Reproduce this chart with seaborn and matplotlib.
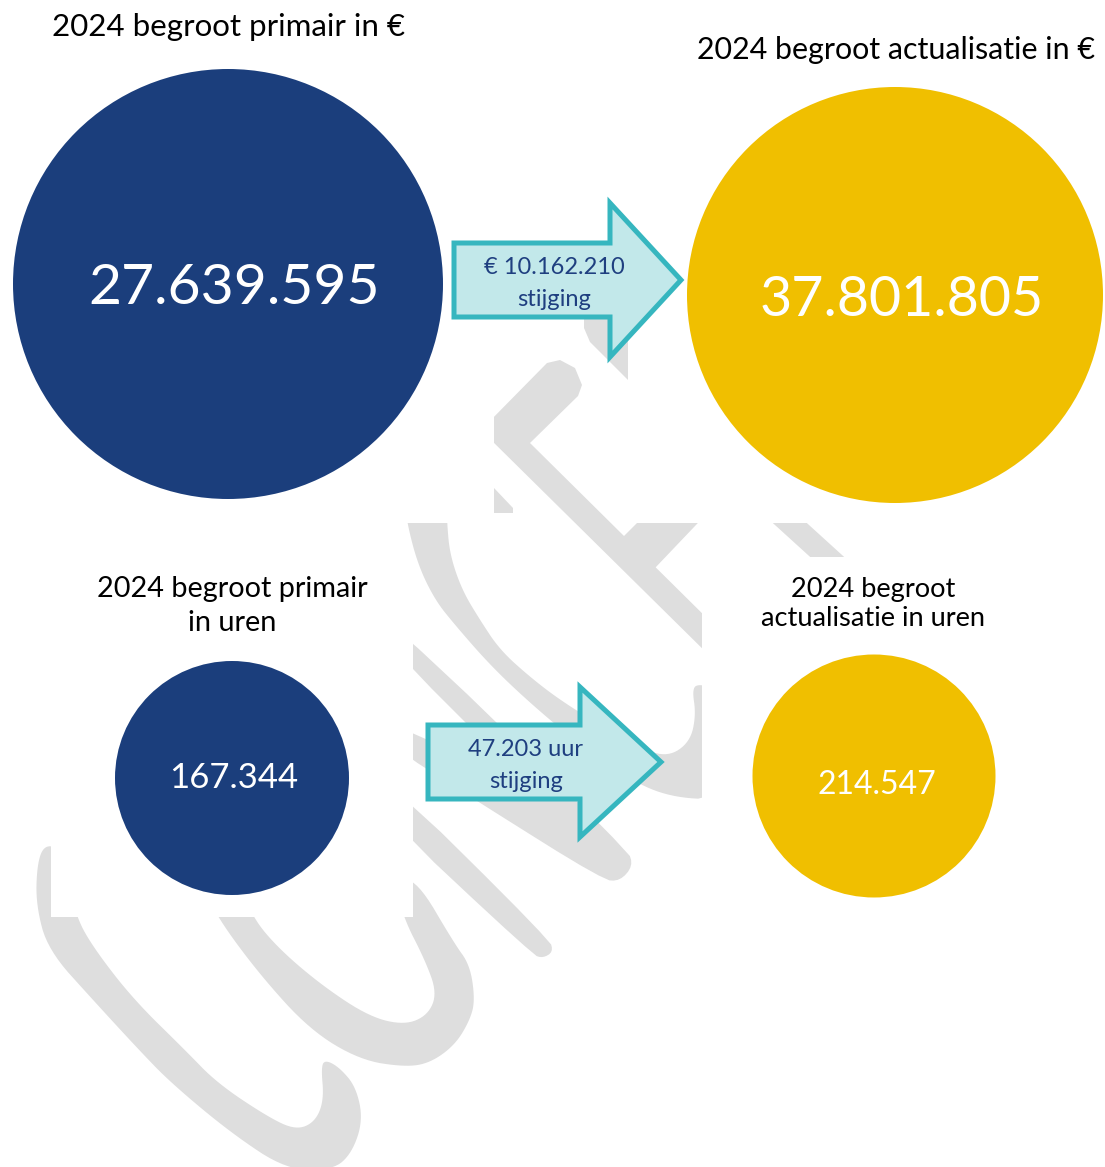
import numpy as np
import pandas as pd
import seaborn as sns
import matplotlib.pyplot as plt
import matplotlib.patches as patches

# data
labels_euro = ["2024 begroot primair in €", "2024 begroot actualisatie in €"]
values_euro = [27639595, 37801805]
labels_uren = [["2024 begroot primair", "in uren"], ["2024 begroot", "actualisatie in uren"]]
values_uren = [167344, 214547]
kinds = ["primair", "actualisatie"]

BLUE = "#1B3E7C"
YELLOW = "#F0BF00"
ARROW_FILL = "#C2E8EA"
ARROW_EDGE = "#36B6BF"
ARROW_TEXT = "#1F3F80"
WM_GRAY = "#DEDEDE"


def nl(v):
    # dutch thousands separator
    return f"{v:,}".replace(",", ".")


def chaikin(pts, n=3):
    p = np.asarray(pts, float)
    for _ in range(n):
        q = np.roll(p, -1, axis=0)
        p = np.column_stack([0.75 * p + 0.25 * q, 0.25 * p + 0.75 * q]).reshape(-1, 2)
    return p


def draw_arrow(ax, x0, x1, tip, yc, shaft_h, head_h, lines, fs):
    pts = [(x0, yc - shaft_h), (x1, yc - shaft_h), (x1, yc - head_h), (tip, yc),
           (x1, yc + head_h), (x1, yc + shaft_h), (x0, yc + shaft_h)]
    ax.add_patch(patches.Polygon(pts, closed=True, facecolor=ARROW_FILL,
                                 edgecolor=ARROW_EDGE, linewidth=3.6, joinstyle="miter", zorder=4))
    xm = (x0 + x1) / 2 + 22
    for i, t in enumerate(lines):
        ax.text(xm, yc - 13 + i * 33, t, ha="center", va="center", fontsize=fs,
                color=ARROW_TEXT, zorder=5)


def shape(ax, pts, z, smooth=0, clip=None):
    p = chaikin(pts, smooth) if smooth else pts
    patch = patches.Polygon(p, closed=True, facecolor=WM_GRAY, edgecolor="none", zorder=z)
    ax.add_patch(patch)
    if clip is not None:
        x, y, w, h = clip
        patch.set_clip_path(patches.Rectangle((x, y), w, h, transform=ax.transData))


def watermark(ax):
    # background logo, roughly traced; text boxes of the original hide parts of it
    shape(ax, [(44, 845), (37, 865), (36, 905), (48, 950), (93, 1000), (139, 1050), (171, 1083),
               (231, 1133), (287, 1170), (333, 1170), (352, 1153), (363, 1120), (356, 1087),
               (340, 1068), (326, 1060), (321, 1066), (324, 1100), (315, 1122), (296, 1130),
               (268, 1117), (217, 1083), (185, 1050), (134, 1000), (95, 950), (76, 917),
               (70, 880), (60, 848)], 0, smooth=3)
    shape(ax, [(200, 880), (217, 917), (260, 975), (310, 1030), (360, 1060), (405, 1067),
               (430, 1063), (455, 1045), (470, 1020), (475, 1000), (470, 965), (454, 943),
               (417, 880), (395, 880), (403, 917), (425, 960), (437, 993), (428, 1015),
               (405, 1025), (370, 1017), (324, 987), (280, 950), (252, 917), (240, 880)],
          0, smooth=3)
    shape(ax, [(370, 600), (628, 850), (633, 866), (620, 881), (603, 880), (480, 803),
               (380, 739), (380, 716), (535, 792), (370, 627)], 0, smooth=2)
    shape(ax, [(375, 767), (550, 940), (553, 952), (543, 958), (533, 955), (375, 807)], 0, smooth=2)
    ax.add_patch(patches.Rectangle((51, 523), 362, 394, facecolor="white", edgecolor="none", zorder=0.5))

    shape(ax, [(405, 500), (407, 523), (418, 565), (435, 600), (455, 625), (490, 665),
               (530, 703), (580, 745), (630, 780), (670, 797), (720, 800), (720, 690),
               (700, 684), (692, 688), (696, 715), (690, 742), (668, 757), (640, 748),
               (600, 725), (560, 700), (530, 677), (500, 650), (480, 620), (462, 590),
               (450, 555), (447, 523), (447, 500)],
          0.6, smooth=3, clip=(0, 523, 702, 700))
    shape(ax, [(485, 426), (547, 363), (560, 360), (575, 368), (582, 385), (578, 396),
               (530, 443), (720, 631), (720, 666), (485, 434)],
          0.6, clip=(494, 300, 208, 400))
    shape(ax, [(615, 545), (655, 505), (715, 505), (655, 568), (640, 568)],
          0.6, clip=(0, 523, 702, 100))
    shape(ax, [(494, 488), (513, 508), (513, 513), (494, 513)], 0.6)
    shape(ax, [(753, 505), (787, 505), (864, 575), (830, 575)], 0.6, clip=(700, 523, 200, 34))
    shape(ax, [(584, 300), (640, 300), (640, 392), (605, 357), (590, 342), (584, 328)],
          0.6, clip=(0, 290, 628, 120))


sns.set_theme(style="white")
plt.rcParams["font.family"] = ["Lato", "DejaVu Sans"]

fig = plt.figure(figsize=(11.05, 11.67), dpi=100)
ax = fig.add_axes([0, 0, 1, 1])
ax.set_xlim(0, 1105)
ax.set_ylim(1167, 0)
ax.axis("off")

watermark(ax)

# circles (layout in pixels)
circles = pd.DataFrame({
    "x": [228, 895, 232, 874],
    "y": [284, 295, 778, 776],
    "kind": kinds + kinds,
    "diam": [430, 416, 234, 243],
    "value": values_euro + values_uren,
})
sns.scatterplot(data=circles, x="x", y="y", hue="kind",
                palette={"primair": BLUE, "actualisatie": YELLOW},
                s=(circles["diam"] * 0.72) ** 2, linewidth=0, legend=False,
                ax=ax, zorder=3)

# values inside the circles
num_pos = [(234, 288, 41), (902, 300, 40), (234, 778, 25), (877, 785, 23)]
for (x, y, fs), v in zip(num_pos, circles["value"]):
    ax.text(x, y, nl(v), ha="center", va="center", fontsize=fs, color="white", zorder=5)

# titles
ax.text(228, 27, labels_euro[0], ha="center", va="center", fontsize=22.5, color="black")
ax.text(896, 50, labels_euro[1], ha="center", va="center", fontsize=21.9, color="black")
for i, t in enumerate(labels_uren[0]):
    ax.text(232, 589 + i * 34, t, ha="center", va="center", fontsize=20.8, color="black")
for i, t in enumerate(labels_uren[1]):
    ax.text(873, 589 + i * 30, t, ha="center", va="center", fontsize=19.6, color="black")

# increase arrows
draw_arrow(ax, 454, 610, 681, 280, 37, 77,
           [f"€ {nl(values_euro[1] - values_euro[0])}", "stijging"], 17)
draw_arrow(ax, 428, 580, 661, 762, 37, 75,
           [f"{nl(values_uren[1] - values_uren[0])} uur", "stijging"], 17)

ax.set_xlim(0, 1105)
ax.set_ylim(1167, 0)
fig.savefig("out.png", dpi=100)
